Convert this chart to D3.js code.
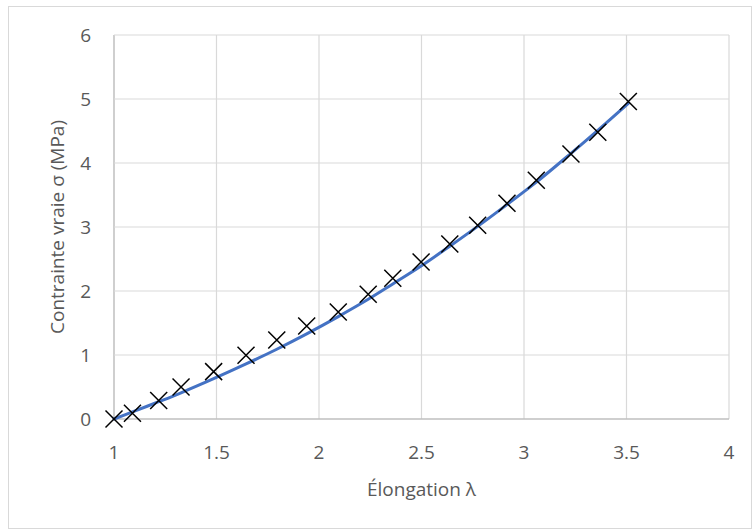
<!DOCTYPE html>
<html><head><meta charset="utf-8">
<script src="https://cdn.jsdelivr.net/npm/d3@7"></script>
<style>body{margin:0;background:#fff;} svg{display:block;}</style>
</head><body>
<svg id="c" width="753" height="530"></svg>
<script>
// Measured points (markers)
const lambdaData = [1.0, 1.09, 1.218, 1.327, 1.486, 1.644, 1.794, 1.94, 2.094, 2.24, 2.36, 2.498, 2.638, 2.774, 2.917, 3.06, 3.229, 3.36, 3.509];
const sigmaData  = [0.0, 0.09, 0.29, 0.50, 0.74, 0.995, 1.234, 1.453, 1.672, 1.948, 2.198, 2.453, 2.734, 3.026, 3.37, 3.73, 4.14, 4.48, 4.96];
// Smooth model curve (blue line), read at the same elongations
const sigmaModel = [0.0, 0.11, 0.27, 0.41, 0.63, 0.86, 1.09, 1.33, 1.60, 1.87, 2.11, 2.39, 2.70, 3.01, 3.35, 3.70, 4.15, 4.51, 4.93];
const xTicks = [1, 1.5, 2, 2.5, 3, 3.5, 4];
const yTicks = [0, 1, 2, 3, 4, 5, 6];
const xTitle = "Élongation λ";
const yTitle = "Contrainte vraie σ (MPa)";

const svg = d3.select("#c");
const font = "'Open Sans', sans-serif";
const textColor = "#595959";
const fs = 19;

// outer chart border
svg.append("rect").attr("x", 8.5).attr("y", 6.5).attr("width", 743).attr("height", 522)
  .attr("fill", "#fff").attr("stroke", "#d9d9d9").attr("stroke-width", 1);

const x = d3.scaleLinear().domain([1, 4]).range([114, 729]);
const y = d3.scaleLinear().domain([0, 6]).range([419, 35]);

// gridlines
svg.append("g").selectAll("line.v").data(xTicks).join("line")
  .attr("x1", d => x(d)).attr("x2", d => x(d)).attr("y1", y(0)).attr("y2", y(6))
  .attr("stroke", d => d === 1 ? "#bfbfbf" : "#d9d9d9").attr("stroke-width", d => d === 1 ? 1.5 : 1.2);
svg.append("g").selectAll("line.h").data(yTicks).join("line")
  .attr("x1", x(1)).attr("x2", x(4)).attr("y1", d => y(d)).attr("y2", d => y(d))
  .attr("stroke", d => d === 0 ? "#bfbfbf" : "#d9d9d9").attr("stroke-width", d => d === 0 ? 1.5 : 1.2);

// tick labels
svg.append("g").selectAll("text").data(xTicks).join("text")
  .attr("x", d => x(d)).attr("y", 459).attr("text-anchor", "middle")
  .attr("font-family", font).attr("font-size", fs).attr("fill", textColor)
  .text(d => d3.format("")(d));
svg.append("g").selectAll("text").data(yTicks).join("text")
  .attr("x", 91).attr("y", d => y(d) + 7).attr("text-anchor", "end")
  .attr("font-family", font).attr("font-size", fs).attr("fill", textColor)
  .text(d => d);

// axis titles
svg.append("text").attr("x", (x(1) + x(4)) / 2).attr("y", 496).attr("text-anchor", "middle")
  .attr("font-family", font).attr("font-size", fs).attr("fill", textColor).text(xTitle);
svg.append("text").attr("transform", `translate(64,${(y(0) + y(6)) / 2}) rotate(-90)`)
  .attr("text-anchor", "middle")
  .attr("font-family", font).attr("font-size", fs).attr("fill", textColor).text(yTitle);

// model line
const line = d3.line().x((d, i) => x(lambdaData[i])).y(d => y(d)).curve(d3.curveCatmullRom.alpha(0.5));
svg.append("path").datum(sigmaModel).attr("d", line)
  .attr("fill", "none").attr("stroke", "#4472C4").attr("stroke-width", 3).attr("stroke-linecap", "round");

// markers
const m = 8.5;
svg.append("g").selectAll("path").data(sigmaData).join("path")
  .attr("d", (d, i) => {
    const cx = x(lambdaData[i]), cy = y(d);
    return `M${cx - m},${cy - m}L${cx + m},${cy + m}M${cx - m},${cy + m}L${cx + m},${cy - m}`;
  })
  .attr("stroke", "#000").attr("stroke-width", 1.5).attr("fill", "none");
</script>
</body></html>
